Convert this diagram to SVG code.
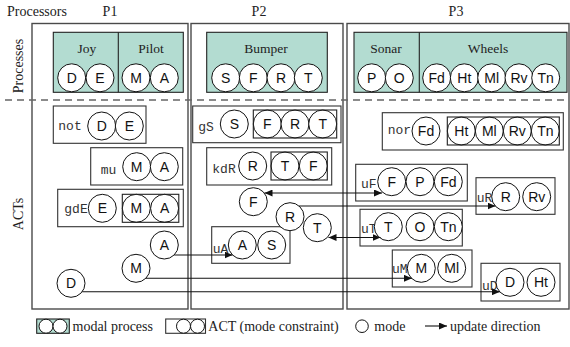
<svg xmlns="http://www.w3.org/2000/svg" width="570" height="347" viewBox="0 0 570 347">
<defs>
<style>
.proc{fill:none;stroke:#4a4a4a;stroke-width:1.4}
.pbox{fill:#b3dcd1;stroke:#222;stroke-width:1.1}
.act{fill:#fff;stroke:#333;stroke-width:1.1}
.inner{fill:none;stroke:#222;stroke-width:1.1}
.m{fill:#fff;stroke:#111;stroke-width:1}
.ml{font-family:"Liberation Sans",Arial,sans-serif;font-size:14px;text-anchor:middle;fill:#111}
.serif{font-family:"Liberation Serif","Times New Roman",serif;font-size:14px;fill:#222}
.pname{font-family:"Liberation Serif","Times New Roman",serif;font-size:13.5px;fill:#222;text-anchor:middle}
.al{font-family:"Liberation Mono","Courier New",monospace;font-size:13px;fill:#333}
.con{fill:none;stroke:#111;stroke-width:1.1}
</style>
<marker id="ah" markerUnits="userSpaceOnUse" markerWidth="9" markerHeight="7" refX="8" refY="3.5" orient="auto-start-reverse">
<path d="M0,0 L8,3.5 L0,7 z" fill="#111"/>
</marker>
</defs>
<rect width="570" height="347" fill="#fff"/>

<!-- headers -->
<text class="serif" x="7" y="16">Processors</text>
<text class="serif" x="110" y="16" text-anchor="middle">P1</text>
<text class="serif" x="259" y="16" text-anchor="middle">P2</text>
<text class="serif" x="456" y="16" text-anchor="middle">P3</text>
<text class="serif" transform="translate(23,66) rotate(-90)" text-anchor="middle">Processes</text>
<text class="serif" transform="translate(23,214) rotate(-90)" text-anchor="middle">ACTs</text>

<!-- processor boxes -->
<g id="P1"><rect class="proc" x="32" y="23.5" width="156" height="285.5"/></g>
<g id="P2"><rect class="proc" x="191" y="23.5" width="152" height="285.5"/></g>
<g id="P3"><rect class="proc" x="347" y="23.5" width="222" height="285.5"/></g>
<line x1="5" y1="100" x2="569" y2="100" stroke="#666" stroke-width="1.5" stroke-dasharray="7 5"/>

<!-- processes -->
<g id="proc-joy-pilot">
<rect class="pbox" x="53.3" y="32.3" width="130" height="60"/>
<line x1="118.3" y1="32.3" x2="118.3" y2="92.3" stroke="#222" stroke-width="1.1"/>
<text class="pname" x="87" y="53">Joy</text>
<text class="pname" x="151" y="53">Pilot</text>
<circle class="m" cx="71.7" cy="77.8" r="14"/><text class="ml" x="71.7" y="82.8">D</text>
<circle class="m" cx="100" cy="77.8" r="14"/><text class="ml" x="100" y="82.8">E</text>
<circle class="m" cx="136" cy="77.8" r="14"/><text class="ml" x="136" y="82.8">M</text>
<circle class="m" cx="164.3" cy="77.8" r="14"/><text class="ml" x="164.3" y="82.8">A</text>
</g>
<g id="proc-bumper">
<rect class="pbox" x="206.7" y="32.3" width="120.6" height="60"/>
<text class="pname" x="266" y="53">Bumper</text>
<circle class="m" cx="225.7" cy="77.8" r="14"/><text class="ml" x="225.7" y="82.8">S</text>
<circle class="m" cx="253.3" cy="77.8" r="14"/><text class="ml" x="253.3" y="82.8">F</text>
<circle class="m" cx="281" cy="77.8" r="14"/><text class="ml" x="281" y="82.8">R</text>
<circle class="m" cx="308.3" cy="77.8" r="14"/><text class="ml" x="308.3" y="82.8">T</text>
</g>
<g id="proc-sonar-wheels">
<rect class="pbox" x="354" y="32.3" width="213" height="60"/>
<line x1="419.3" y1="32.3" x2="419.3" y2="92.3" stroke="#222" stroke-width="1.1"/>
<text class="pname" x="386" y="53">Sonar</text>
<text class="pname" x="488" y="53">Wheels</text>
<circle class="m" cx="371.7" cy="77.8" r="14"/><text class="ml" x="371.7" y="82.8">P</text>
<circle class="m" cx="399.3" cy="77.8" r="14"/><text class="ml" x="399.3" y="82.8">O</text>
<circle class="m" cx="436.7" cy="77.8" r="14"/><text class="ml" x="436.7" y="82.8">Fd</text>
<circle class="m" cx="464.3" cy="77.8" r="14"/><text class="ml" x="464.3" y="82.8">Ht</text>
<circle class="m" cx="491.7" cy="77.8" r="14"/><text class="ml" x="491.7" y="82.8">Ml</text>
<circle class="m" cx="519" cy="77.8" r="14"/><text class="ml" x="519" y="82.8">Rv</text>
<circle class="m" cx="545.7" cy="77.8" r="14"/><text class="ml" x="545.7" y="82.8">Tn</text>
</g>

<!-- ACTs P1 -->
<g id="act-not">
<rect class="act" x="53.3" y="106" width="92.7" height="37.3"/>
<text class="al" x="58.3" y="130">not</text>
<circle class="m" cx="101.7" cy="126" r="14"/><text class="ml" x="101.7" y="131">D</text>
<circle class="m" cx="129.3" cy="126" r="14"/><text class="ml" x="129.3" y="131">E</text>
</g>
<g id="act-mu">
<rect class="act" x="90.7" y="147.7" width="92" height="37.3"/>
<text class="al" x="100.7" y="174">mu</text>
<circle class="m" cx="136.7" cy="166.7" r="14"/><text class="ml" x="136.7" y="171.7">M</text>
<circle class="m" cx="164.3" cy="166.7" r="14"/><text class="ml" x="164.3" y="171.7">A</text>
</g>
<g id="act-gdE">
<rect class="act" x="57.7" y="189.3" width="125.6" height="37.4"/>
<text class="al" x="64.3" y="213">gdE</text>
<circle class="m" cx="102.3" cy="208.3" r="14"/><text class="ml" x="102.3" y="213.3">E</text>
<circle class="m" cx="136.3" cy="208.3" r="14"/><text class="ml" x="136.3" y="213.3">M</text>
<circle class="m" cx="164.6" cy="208.3" r="14"/><text class="ml" x="164.6" y="213.3">A</text>
<rect class="inner" x="122.3" y="194.3" width="56.5" height="28"/>
</g>

<!-- ACTs P2 -->
<g id="act-gS">
<rect class="act" x="192.7" y="106" width="148.3" height="36.7"/>
<text class="al" x="198.3" y="130.7">gS</text>
<circle class="m" cx="234.3" cy="124" r="14"/><text class="ml" x="234.3" y="129">S</text>
<circle class="m" cx="267.3" cy="124" r="14"/><text class="ml" x="267.3" y="129">F</text>
<circle class="m" cx="295" cy="124" r="14"/><text class="ml" x="295" y="129">R</text>
<circle class="m" cx="322.7" cy="124" r="14"/><text class="ml" x="322.7" y="129">T</text>
<rect class="inner" x="253.3" y="110" width="83.4" height="28"/>
</g>
<g id="act-kdR">
<rect class="act" x="206.7" y="147.7" width="125" height="37.3"/>
<text class="al" x="212.3" y="173">kdR</text>
<circle class="m" cx="252.7" cy="166" r="14"/><text class="ml" x="252.7" y="171">R</text>
<circle class="m" cx="285" cy="166" r="14"/><text class="ml" x="285" y="171">T</text>
<circle class="m" cx="313.3" cy="166" r="14"/><text class="ml" x="313.3" y="171">F</text>
<rect class="inner" x="271" y="152" width="56.3" height="28"/>
</g>
<g id="act-uA">
<rect class="act" x="211.7" y="226.7" width="78.3" height="36.6"/>
<text class="al" x="212.7" y="253">uA</text>
<circle class="m" cx="242.3" cy="245" r="14"/><text class="ml" x="242.3" y="250">A</text>
<circle class="m" cx="271.7" cy="245" r="14"/><text class="ml" x="271.7" y="250">S</text>
</g>

<!-- ACTs P3 -->
<g id="act-nor">
<rect class="act" x="382.3" y="112.7" width="181" height="37.3"/>
<text class="al" x="387.7" y="134">nor</text>
<circle class="m" cx="426" cy="131" r="14"/><text class="ml" x="426" y="136">Fd</text>
<circle class="m" cx="461.3" cy="131" r="14"/><text class="ml" x="461.3" y="136">Ht</text>
<circle class="m" cx="489.3" cy="131" r="14"/><text class="ml" x="489.3" y="136">Ml</text>
<circle class="m" cx="517.3" cy="131" r="14"/><text class="ml" x="517.3" y="136">Rv</text>
<circle class="m" cx="545.3" cy="131" r="14"/><text class="ml" x="545.3" y="136">Tn</text>
<rect class="inner" x="447.3" y="117" width="112" height="28"/>
</g>
<g id="act-uF">
<rect class="act" x="355.7" y="164.3" width="111.6" height="36.7"/>
<text class="al" x="361" y="188">uF</text>
<circle class="m" cx="391.7" cy="181.7" r="14"/><text class="ml" x="391.7" y="186.7">F</text>
<circle class="m" cx="420" cy="181.7" r="14"/><text class="ml" x="420" y="186.7">P</text>
<circle class="m" cx="448.3" cy="181.7" r="14"/><text class="ml" x="448.3" y="186.7">Fd</text>
</g>
<g id="act-uR">
<rect class="act" x="476" y="177.7" width="79" height="36.6"/>
<text class="al" x="476.7" y="202">uR</text>
<circle class="m" cx="505.7" cy="196.7" r="14"/><text class="ml" x="505.7" y="201.7">R</text>
<circle class="m" cx="536.7" cy="196.7" r="14"/><text class="ml" x="536.7" y="201.7">Rv</text>
</g>
<g id="act-uT">
<rect class="act" x="360" y="209.3" width="102.3" height="36.7"/>
<text class="al" x="361" y="233">uT</text>
<circle class="m" cx="388.3" cy="226.7" r="14"/><text class="ml" x="388.3" y="231.7">T</text>
<circle class="m" cx="420" cy="226.7" r="14"/><text class="ml" x="420" y="231.7">O</text>
<circle class="m" cx="448.3" cy="226.7" r="14"/><text class="ml" x="448.3" y="231.7">Tn</text>
</g>
<g id="act-uM">
<rect class="act" x="392.3" y="250" width="79.7" height="37"/>
<text class="al" x="392" y="273">uM</text>
<circle class="m" cx="421.3" cy="268.3" r="14"/><text class="ml" x="421.3" y="273.3">M</text>
<circle class="m" cx="451.7" cy="268.3" r="14"/><text class="ml" x="451.7" y="273.3">Ml</text>
</g>
<g id="act-uD">
<rect class="act" x="481" y="263.3" width="79" height="37.7"/>
<text class="al" x="482" y="290">uD</text>
<circle class="m" cx="510" cy="282.3" r="14"/><text class="ml" x="510" y="287.3">D</text>
<circle class="m" cx="541" cy="282.3" r="14"/><text class="ml" x="541" y="287.3">Ht</text>
</g>

<!-- free modes -->
<g id="mode-F"><circle class="m" cx="253.3" cy="201.7" r="14"/><text class="ml" x="253.3" y="206.7">F</text></g>
<g id="mode-R"><circle class="m" cx="290" cy="216.7" r="14"/><text class="ml" x="290" y="221.7">R</text></g>
<g id="mode-T"><circle class="m" cx="317.3" cy="227.7" r="14"/><text class="ml" x="317.3" y="232.7">T</text></g>
<g id="mode-A"><circle class="m" cx="164.3" cy="245" r="14"/><text class="ml" x="164.3" y="250">A</text></g>
<g id="mode-M"><circle class="m" cx="136" cy="268.3" r="14"/><text class="ml" x="136" y="273.3">M</text></g>
<g id="mode-D"><circle class="m" cx="71" cy="283.3" r="14"/><text class="ml" x="71" y="288.3">D</text></g>

<!-- connectors -->
<g id="connectors">
<line class="con" x1="174.2" y1="255" x2="232.5" y2="255" marker-end="url(#ah)"/>
<line class="con" x1="145.8" y1="278.3" x2="412" y2="278.3" marker-end="url(#ah)"/>
<line class="con" x1="82.2" y1="291.7" x2="500" y2="291.7" marker-end="url(#ah)"/>
<line class="con" x1="264.5" y1="193" x2="382" y2="193" marker-start="url(#ah)" marker-end="url(#ah)"/>
<line class="con" x1="299" y1="206" x2="495.5" y2="206" marker-end="url(#ah)"/>
<line class="con" x1="328.5" y1="237.5" x2="380.5" y2="237.5" marker-start="url(#ah)" marker-end="url(#ah)"/>
</g>

<!-- legend -->
<g id="legend">
<rect class="pbox" x="36.7" y="319" width="32.6" height="14.3"/>
<circle class="m" cx="46" cy="326.2" r="7"/><circle class="m" cx="60" cy="326.2" r="7"/>
<text class="serif" x="72.5" y="331">modal process</text>
<rect class="act" x="165.7" y="319" width="39.8" height="14.3"/>
<circle class="m" cx="183.5" cy="326.2" r="7"/><circle class="m" cx="197.5" cy="326.2" r="7"/>
<text class="serif" x="208.3" y="331">ACT (mode constraint)</text>
<circle class="m" cx="362" cy="326.2" r="6.3"/>
<text class="serif" x="374.3" y="331">mode</text>
<line class="con" x1="425" y1="326" x2="447" y2="326" marker-end="url(#ah)"/>
<text class="serif" x="450" y="331">update direction</text>
</g>
</svg>
